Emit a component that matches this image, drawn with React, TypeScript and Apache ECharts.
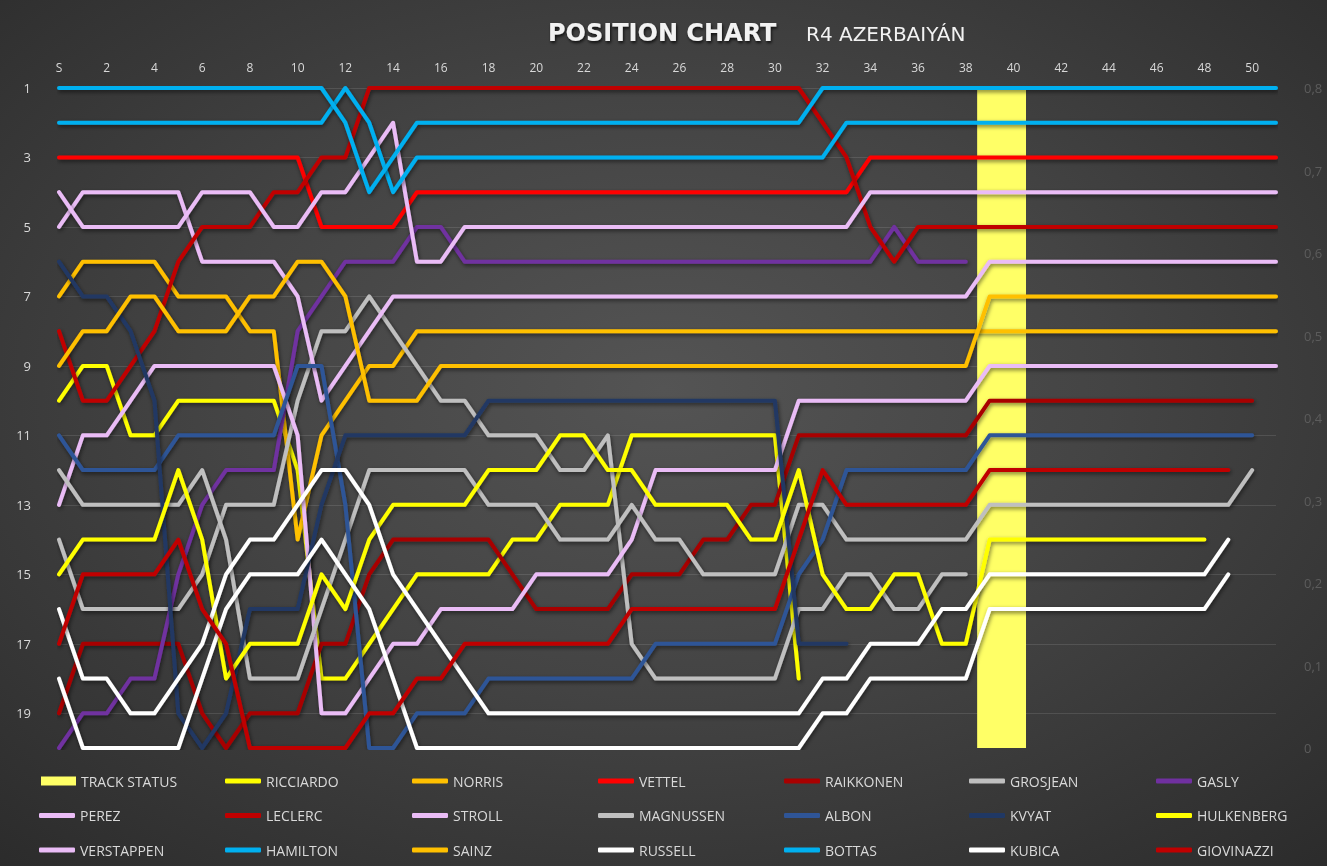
import React, { useEffect, useRef } from 'react';
import * as echarts from 'echarts';

const N = null;

// Lap categories: S (start), 1..51
const LAPS: string[] = ['S', ...Array.from({ length: 51 }, (_, i) => String(i + 1))];

const TRACK_STATUS = [
  N, N, N, N, N, N, N, N, N, N,
  N, N, N, N, N, N, N, N, N, N,
  N, N, N, N, N, N, N, N, N, N,
  N, N, N, N, N, N, N, N, N, 0.8,
  0.8, N, N, N, N, N, N, N, N, N,
  N, N];

const BOTTAS = [
  1, 1, 1, 1, 1, 1, 1, 1, 1, 1,
  1, 1, 2, 4, 3, 2, 2, 2, 2, 2,
  2, 2, 2, 2, 2, 2, 2, 2, 2, 2,
  2, 2, 1, 1, 1, 1, 1, 1, 1, 1,
  1, 1, 1, 1, 1, 1, 1, 1, 1, 1,
  1, 1];
const HAMILTON = [
  2, 2, 2, 2, 2, 2, 2, 2, 2, 2,
  2, 2, 1, 2, 4, 3, 3, 3, 3, 3,
  3, 3, 3, 3, 3, 3, 3, 3, 3, 3,
  3, 3, 3, 2, 2, 2, 2, 2, 2, 2,
  2, 2, 2, 2, 2, 2, 2, 2, 2, 2,
  2, 2];
const VETTEL = [
  3, 3, 3, 3, 3, 3, 3, 3, 3, 3,
  3, 5, 5, 5, 5, 4, 4, 4, 4, 4,
  4, 4, 4, 4, 4, 4, 4, 4, 4, 4,
  4, 4, 4, 4, 3, 3, 3, 3, 3, 3,
  3, 3, 3, 3, 3, 3, 3, 3, 3, 3,
  3, 3];
const VERSTAPPEN = [
  4, 5, 5, 5, 5, 5, 4, 4, 4, 5,
  5, 4, 4, 3, 2, 6, 6, 5, 5, 5,
  5, 5, 5, 5, 5, 5, 5, 5, 5, 5,
  5, 5, 5, 5, 4, 4, 4, 4, 4, 4,
  4, 4, 4, 4, 4, 4, 4, 4, 4, 4,
  4, 4];
const PEREZ = [
  5, 4, 4, 4, 4, 4, 6, 6, 6, 6,
  7, 10, 9, 8, 7, 7, 7, 7, 7, 7,
  7, 7, 7, 7, 7, 7, 7, 7, 7, 7,
  7, 7, 7, 7, 7, 7, 7, 7, 7, 6,
  6, 6, 6, 6, 6, 6, 6, 6, 6, 6,
  6, 6];
const LECLERC = [
  8, 10, 10, 9, 8, 6, 5, 5, 5, 4,
  4, 3, 3, 1, 1, 1, 1, 1, 1, 1,
  1, 1, 1, 1, 1, 1, 1, 1, 1, 1,
  1, 1, 2, 3, 5, 6, 5, 5, 5, 5,
  5, 5, 5, 5, 5, 5, 5, 5, 5, 5,
  5, 5];
const GASLY = [
  20, 19, 19, 18, 18, 15, 13, 12, 12, 12,
  8, 7, 6, 6, 6, 5, 5, 6, 6, 6,
  6, 6, 6, 6, 6, 6, 6, 6, 6, 6,
  6, 6, 6, 6, 6, 5, 6, 6, 6, N,
  N, N, N, N, N, N, N, N, N, N,
  N, N];
const NORRIS = [
  7, 6, 6, 6, 6, 7, 7, 7, 8, 8,
  14, 11, 10, 9, 9, 8, 8, 8, 8, 8,
  8, 8, 8, 8, 8, 8, 8, 8, 8, 8,
  8, 8, 8, 8, 8, 8, 8, 8, 8, 8,
  8, 8, 8, 8, 8, 8, 8, 8, 8, 8,
  8, 8];
const SAINZ = [
  9, 8, 8, 7, 7, 8, 8, 8, 7, 7,
  6, 6, 7, 10, 10, 10, 9, 9, 9, 9,
  9, 9, 9, 9, 9, 9, 9, 9, 9, 9,
  9, 9, 9, 9, 9, 9, 9, 9, 9, 7,
  7, 7, 7, 7, 7, 7, 7, 7, 7, 7,
  7, 7];
const KVYAT = [
  6, 7, 7, 8, 10, 19, 20, 19, 16, 16,
  16, 13, 11, 11, 11, 11, 11, 11, 10, 10,
  10, 10, 10, 10, 10, 10, 10, 10, 10, 10,
  10, 17, 17, 17, N, N, N, N, N, N,
  N, N, N, N, N, N, N, N, N, N,
  N, N];
const STROLL = [
  13, 11, 11, 10, 9, 9, 9, 9, 9, 9,
  11, 19, 19, 18, 17, 17, 16, 16, 16, 16,
  15, 15, 15, 15, 14, 12, 12, 12, 12, 12,
  12, 10, 10, 10, 10, 10, 10, 10, 10, 9,
  9, 9, 9, 9, 9, 9, 9, 9, 9, 9,
  9, 9];
const RICCIARDO = [
  10, 9, 9, 11, 11, 10, 10, 10, 10, 10,
  12, 18, 18, 17, 16, 15, 15, 15, 15, 14,
  14, 13, 13, 13, 11, 11, 11, 11, 11, 11,
  11, 18, N, N, N, N, N, N, N, N,
  N, N, N, N, N, N, N, N, N, N,
  N, N];
const HULKENBERG = [
  15, 14, 14, 14, 14, 12, 14, 18, 17, 17,
  17, 15, 16, 14, 13, 13, 13, 13, 12, 12,
  12, 11, 11, 12, 12, 13, 13, 13, 13, 14,
  14, 12, 15, 16, 16, 15, 15, 17, 17, 14,
  14, 14, 14, 14, 14, 14, 14, 14, 14, N,
  N, N];
const ALBON = [
  11, 12, 12, 12, 12, 11, 11, 11, 11, 11,
  9, 9, 13, 20, 20, 19, 19, 19, 18, 18,
  18, 18, 18, 18, 18, 17, 17, 17, 17, 17,
  17, 15, 14, 12, 12, 12, 12, 12, 12, 11,
  11, 11, 11, 11, 11, 11, 11, 11, 11, 11,
  11, N];
const MAGNUSSEN = [
  12, 13, 13, 13, 13, 13, 12, 14, 18, 18,
  18, 16, 14, 12, 12, 12, 12, 12, 13, 13,
  13, 14, 14, 14, 13, 14, 14, 15, 15, 15,
  15, 13, 13, 14, 14, 14, 14, 14, 14, 13,
  13, 13, 13, 13, 13, 13, 13, 13, 13, 13,
  12, N];
const GROSJEAN = [
  14, 16, 16, 16, 16, 16, 15, 13, 13, 13,
  10, 8, 8, 7, 8, 9, 10, 10, 11, 11,
  11, 12, 12, 11, 17, 18, 18, 18, 18, 18,
  18, 16, 16, 15, 15, 16, 16, 15, 15, N,
  N, N, N, N, N, N, N, N, N, N,
  N, N];
const RAIKKONEN = [
  19, 17, 17, 17, 17, 17, 19, 20, 19, 19,
  19, 17, 17, 15, 14, 14, 14, 14, 14, 15,
  16, 16, 16, 16, 15, 15, 15, 14, 14, 13,
  13, 11, 11, 11, 11, 11, 11, 11, 11, 10,
  10, 10, 10, 10, 10, 10, 10, 10, 10, 10,
  10, N];
const GIOVINAZZI = [
  17, 15, 15, 15, 15, 14, 16, 17, 20, 20,
  20, 20, 20, 19, 19, 18, 18, 17, 17, 17,
  17, 17, 17, 17, 16, 16, 16, 16, 16, 16,
  16, 14, 12, 13, 13, 13, 13, 13, 13, 12,
  12, 12, 12, 12, 12, 12, 12, 12, 12, 12,
  N, N];
const RUSSELL = [
  16, 18, 18, 19, 19, 18, 17, 15, 14, 14,
  13, 12, 12, 13, 15, 16, 17, 18, 19, 19,
  19, 19, 19, 19, 19, 19, 19, 19, 19, 19,
  19, 19, 18, 18, 17, 17, 17, 16, 16, 15,
  15, 15, 15, 15, 15, 15, 15, 15, 15, 14,
  N, N];
const KUBICA = [
  18, 20, 20, 20, 20, 20, 18, 16, 15, 15,
  15, 14, 15, 16, 18, 20, 20, 20, 20, 20,
  20, 20, 20, 20, 20, 20, 20, 20, 20, 20,
  20, 20, 19, 19, 18, 18, 18, 18, 18, 16,
  16, 16, 16, 16, 16, 16, 16, 16, 16, 15,
  N, N];

// Drawing order = legend order
const DRIVERS = ['RICCIARDO', 'NORRIS', 'VETTEL', 'RAIKKONEN', 'GROSJEAN', 'GASLY', 'PEREZ',
  'LECLERC', 'STROLL', 'MAGNUSSEN', 'ALBON', 'KVYAT', 'HULKENBERG', 'VERSTAPPEN',
  'HAMILTON', 'SAINZ', 'RUSSELL', 'BOTTAS', 'KUBICA', 'GIOVINAZZI'];

const DATA: Record<string, (number | null)[]> = {
  RICCIARDO, NORRIS, VETTEL, RAIKKONEN, GROSJEAN, GASLY, PEREZ, LECLERC, STROLL, MAGNUSSEN,
  ALBON, KVYAT, HULKENBERG, VERSTAPPEN, HAMILTON, SAINZ, RUSSELL, BOTTAS, KUBICA, GIOVINAZZI,
};

const PINK = '#EABCF6';
const COLORS: Record<string, string> = {
  RICCIARDO: '#FFFF00', NORRIS: '#FFC000', VETTEL: '#FF0000', RAIKKONEN: '#A80000',
  GROSJEAN: '#BFBFBF', GASLY: '#7030A0', PEREZ: PINK, LECLERC: '#C00000', STROLL: PINK,
  MAGNUSSEN: '#BFBFBF', ALBON: '#2F5597', KVYAT: '#203864', HULKENBERG: '#FFFF00',
  VERSTAPPEN: PINK, HAMILTON: '#00B0F0', SAINZ: '#FFC000', RUSSELL: '#FFFFFF',
  BOTTAS: '#00B0F0', KUBICA: '#FFFFFF', GIOVINAZZI: '#C00000',
};
const TRACK_COLOR = '#FFFF66';

const LEGEND_COLS = [
  ['RICCIARDO', 'LECLERC', 'HAMILTON'],
  ['NORRIS', 'STROLL', 'SAINZ'],
  ['VETTEL', 'MAGNUSSEN', 'RUSSELL'],
  ['RAIKKONEN', 'ALBON', 'BOTTAS'],
  ['GROSJEAN', 'KVYAT', 'KUBICA'],
  ['GASLY', 'HULKENBERG', 'GIOVINAZZI'],
];
const LEGEND_X = [225, 412, 598, 784, 969, 1156];

export default function App() {
  const ref = useRef<HTMLDivElement>(null);

  useEffect(() => {
    if (!ref.current) return;
    const chart = echarts.init(ref.current, null, { renderer: 'svg' });
    const FONT = 'Open Sans';
    const legendText = { color: '#d9d9d9', fontSize: 14, fontFamily: FONT, lineHeight: 16 };
    const ROW_TOP = 773;
    const ROW_STEP = 34.5;

    const legends: any[] = [
      {
        data: [{ name: 'TRACK STATUS', icon: 'rect' }],
        left: 41, top: ROW_TOP, orient: 'vertical', itemWidth: 35, itemHeight: 9,
        textStyle: legendText, selectedMode: false, padding: 0,
        itemStyle: { borderWidth: 0 },
      },
      {
        data: ['PEREZ', 'VERSTAPPEN'].map((n) => ({ name: n, icon: 'roundRect' })),
        left: 39, top: ROW_TOP + ROW_STEP, orient: 'vertical', itemWidth: 36, itemHeight: 5,
        itemGap: ROW_STEP - 16, textStyle: legendText, selectedMode: false, padding: 0,
        itemStyle: { borderWidth: 0 },
      },
      ...LEGEND_COLS.map((col, i) => ({
        data: col.map((n) => ({ name: n, icon: 'roundRect' })),
        left: LEGEND_X[i], top: ROW_TOP, orient: 'vertical', itemWidth: 36, itemHeight: 5,
        itemGap: ROW_STEP - 16, textStyle: legendText, selectedMode: false, padding: 0,
        itemStyle: { borderWidth: 0 },
      })),
    ];

    const lineSeries = DRIVERS.map((name) => ({
      name,
      type: 'line',
      data: DATA[name],
      symbol: 'none',
      showSymbol: false,
      connectNulls: false,
      silent: true,
      z: 3,
      itemStyle: { color: COLORS[name] },
      lineStyle: {
        color: COLORS[name], width: 4, cap: 'round', join: 'round',
        shadowColor: 'rgba(0,0,0,0.55)', shadowBlur: 4, shadowOffsetX: 1, shadowOffsetY: 2,
      },
    }));

    chart.setOption({
      animation: false,
      backgroundColor: 'transparent',
      title: [
        {
          text: 'POSITION CHART', left: 548, top: 21, padding: 0,
          textStyle: {
            color: '#f2f2f2', fontSize: 24, fontWeight: 'bold', fontFamily: 'DejaVu Sans',
            textShadowColor: 'rgba(0,0,0,0.75)', textShadowBlur: 3,
            textShadowOffsetX: 1, textShadowOffsetY: 2,
          },
        },
        {
          text: 'R4 AZERBAIYÁN', left: 806, top: 24, padding: 0,
          textStyle: { color: '#f2f2f2', fontSize: 20, fontWeight: 'normal', fontFamily: 'DejaVu Sans' },
        },
      ],
      legend: legends,
      grid: { left: 59, right: 51, top: 88, bottom: 118, containLabel: false },
      xAxis: {
        type: 'category', data: LAPS, boundaryGap: false, position: 'top',
        axisLine: { show: false }, axisTick: { show: false }, splitLine: { show: false },
        axisLabel: { interval: 1, color: '#d9d9d9', fontSize: 12, fontFamily: FONT, margin: 15 },
      },
      yAxis: [
        {
          type: 'value', inverse: true, min: 1, max: 20, interval: 2, position: 'left',
          axisLine: { show: false }, axisTick: { show: false },
          axisLabel: {
            color: '#d9d9d9', fontSize: 13, fontFamily: FONT, margin: 28,
            formatter: (v: number) => (v === 20 ? '' : String(v)),
          },
          splitLine: { show: true, showMaxLine: false, lineStyle: { color: 'rgba(255,255,255,0.11)', width: 1 } },
        },
        {
          type: 'value', min: 0, max: 0.8, interval: 0.1, position: 'right',
          axisLine: { show: false }, axisTick: { show: false }, splitLine: { show: false },
          axisLabel: {
            color: '#5c5c5c', fontSize: 13, fontFamily: FONT, margin: 28,
            formatter: (v: number) => (v === 0 ? '0' : v.toFixed(1).replace('.', ',')),
          },
        },
      ],
      series: [
        {
          name: 'TRACK STATUS', type: 'bar', yAxisIndex: 1, data: TRACK_STATUS,
          barWidth: 25, silent: true, z: 1,
          itemStyle: { color: TRACK_COLOR },
        },
        ...lineSeries,
      ],
    });
    return () => chart.dispose();
  }, []);

  return (
    <div
      ref={ref}
      style={{
        position: 'fixed', left: 0, top: 0, width: 1327, height: 866,
        background: 'radial-gradient(ellipse 75% 75% at 50% 45%, #545454 0%, #444444 45%, #2b2b2b 100%)',
      }}
    />
  );
}
